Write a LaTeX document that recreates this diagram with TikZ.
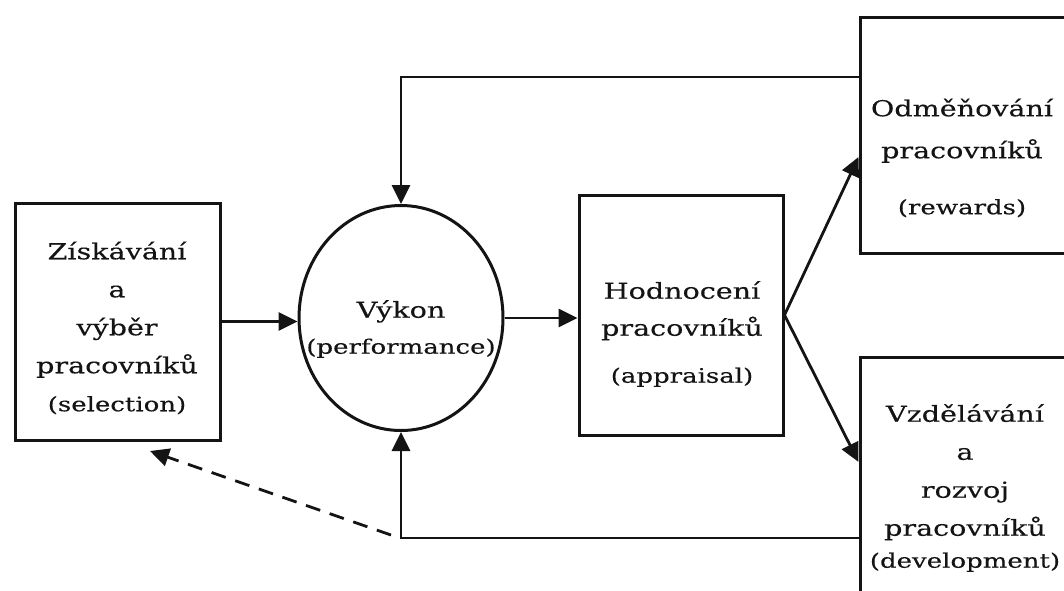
\documentclass[tikz,border=0pt]{standalone}
\usepackage{fontspec}
\setmainfont{DejaVu Serif}[FakeStretch=1.3,FakeBold=0.3]
\usetikzlibrary{arrows.meta,shapes.geometric,calc}
\definecolor{ink}{HTML}{141414}
\newcommand\engl[1]{{\fontsize{20}{38}\selectfont #1}}
\tikzset{
  block/.style = {draw=ink, line width=3pt, shape=rectangle, inner sep=0pt},
  boxtext/.style = {text=ink, align=center, inner sep=0pt,
    font=\fontsize{22}{38}\selectfont},
  flow/.style = {draw=ink, line width=2.8pt, -{Triangle[length=19pt,width=18pt]}},
  back/.style = {flow, dash pattern=on 15pt off 10pt},
}

\begin{document}
\begin{tikzpicture}[x=1pt,y=-1pt]
  \useasboundingbox (0,0) rectangle (1064,590);

  % the five stages
  \node[block, minimum width=205pt, minimum height=237pt] (sel)  at (117.5,321.5) {};
  \node[block, shape=ellipse, minimum width=204pt, minimum height=225pt] (perf) at (401,318) {};
  \node[block, minimum width=204pt, minimum height=240pt] (appr) at (681,315) {};
  \node[block, minimum width=206pt, minimum height=236pt] (rew)  at (963,135) {};
  \node[block, minimum width=206pt, minimum height=260pt] (dev)  at (963,487) {};

  \node[boxtext] (seltext)  at (117,328) {Získávání\\a\\výběr\\pracovníků\\\engl{(selection)}};
  \node[boxtext] (perftext) at (401,329) {Výkon\\[-2pt]\engl{(performance)}};
  \node[boxtext] (apprtext) at (682,334) {Hodnocení\\[-1pt]pracovníků\\[9pt]\engl{(appraisal)}};
  \node[boxtext] (rewtext)  at (962,158) {Odměňování\\[4pt]pracovníků\\[18pt]\engl{(rewards)}};
  \node[boxtext] (devtext)  at (965,488) {Vzdělávání\\a\\rozvoj\\pracovníků\\[-6pt]\engl{(development)}};

  % forward flow
  \draw[flow] (sel.east) -- (sel.east -| perf.west);
  \draw[flow] (perf.east) -- (perf.east -| appr.west);
  \draw[flow] (appr.east) -- ([yshift=-22pt]rew.west);
  \draw[flow] (appr.east) -- ([yshift=25pt]dev.west);

  % feedback loops
  \coordinate (fbtop) at ([yshift=58pt]rew.west);
  \coordinate (fbbot) at ([yshift=-51pt]dev.west);
  \coordinate (retry) at (150,451);
  \draw[flow] (fbtop) -| (perf.north);
  \draw[flow] (fbbot) -| (perf.south);
  \draw[back] ($(perf.south |- fbbot)+(-10,-3)$) -- (retry);
\end{tikzpicture}
\end{document}
